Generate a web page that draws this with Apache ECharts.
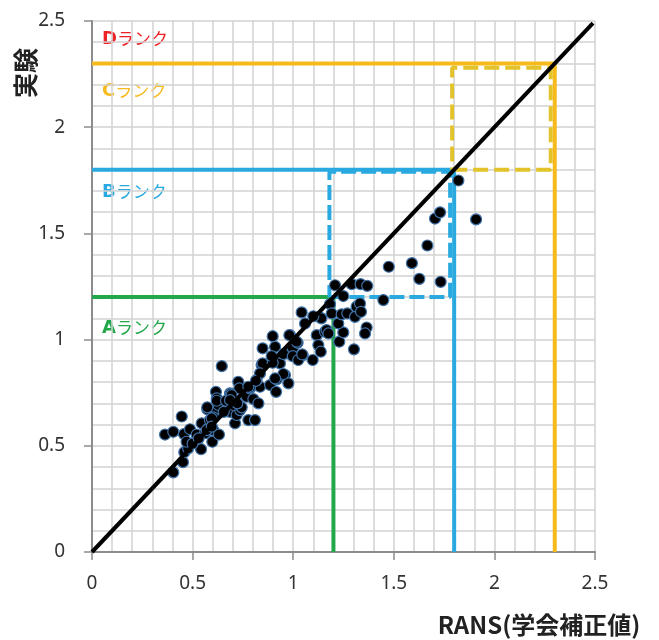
<!DOCTYPE html>
<html>
<head>
<meta charset="utf-8">
<script src="https://cdn.jsdelivr.net/npm/echarts@6/dist/echarts.min.js"></script>
<style>
  html, body { margin: 0; padding: 0; background: #fff; }
  #chart { width: 659px; height: 640px; }
</style>
</head>
<body>
<div id="chart"></div>
<script>
// Axis range shared by both axes
const axisMin = 0;
const axisMax = 2.5;
const majorStep = 0.5;

// Rank thresholds (A / B / C boundaries)
const rankThresholds = [1.2, 1.8, 2.3];

// Dashed boxes around the B and C bands: [x0, x1] and [y0, y1]
const boxBX = [1.18, 1.78];
const boxBY = [1.2, 1.79];
const boxCX = [1.79, 2.28];
const boxCY = [1.8, 2.28];

// Measured pairs: RANS (corrected) vs experiment
const ransValues = [
  0.363, 0.404, 0.404, 0.446, 0.457, 0.487, 0.452, 0.459, 0.478, 0.470,
  0.520, 0.542, 0.545, 0.562, 0.578, 0.598, 0.603, 0.631, 0.586, 0.573,
  0.611, 0.603, 0.616, 0.620, 0.628, 0.645, 0.669, 0.686, 0.711, 0.719,
  0.736, 0.686, 0.727, 0.732, 0.711, 0.769, 0.777, 0.810, 0.802, 0.827,
  0.785, 0.835, 0.818, 0.848, 0.843, 0.885, 0.915, 0.898, 0.910, 0.918,
  0.934, 0.959, 0.976, 0.968, 0.984, 0.998, 1.022, 1.022, 1.047, 1.097,
  1.059, 1.117, 1.125, 1.137, 1.158, 1.042, 1.133, 0.951, 0.998, 1.025,
  0.848, 0.898, 0.951, 0.910, 0.835, 0.744, 0.702, 0.620, 0.666, 0.573,
  0.689, 0.785, 0.570, 0.595, 0.694, 0.722, 0.595, 0.686, 0.777, 0.815,
  0.893, 0.981, 1.017, 1.045, 1.229, 1.249, 1.224, 0.500, 0.530, 0.655,
  1.183, 1.191, 1.208, 1.249, 1.241, 1.269, 1.291, 1.307, 1.315, 1.332,
  1.335, 1.337, 1.368, 1.140, 1.166, 1.175, 1.365, 1.357, 1.302, 1.100,
  1.448, 1.475, 1.590, 1.627, 1.733, 1.667, 1.705, 1.730, 1.909, 1.821
];
const expValues = [
  0.553, 0.566, 0.375, 0.638, 0.555, 0.578, 0.423, 0.470, 0.488, 0.519,
  0.553, 0.484, 0.606, 0.559, 0.582, 0.519, 0.574, 0.553, 0.621, 0.672,
  0.668, 0.634, 0.754, 0.723, 0.692, 0.875, 0.707, 0.660, 0.606, 0.645,
  0.668, 0.747, 0.801, 0.770, 0.707, 0.731, 0.621, 0.621, 0.720, 0.700,
  0.770, 0.778, 0.809, 0.959, 0.880, 0.786, 0.754, 1.016, 0.966, 0.813,
  0.888, 0.833, 0.794, 0.935, 1.021, 0.959, 0.985, 0.911, 0.927, 0.904,
  1.076, 1.021, 0.974, 0.943, 1.037, 1.128, 1.104, 0.932, 0.922, 0.904,
  0.888, 0.891, 0.838, 0.817, 0.841, 0.681, 0.692, 0.712, 0.712, 0.681,
  0.744, 0.775, 0.574, 0.629, 0.739, 0.700, 0.590, 0.715, 0.778, 0.806,
  0.922, 1.021, 0.990, 0.930, 0.990, 1.034, 1.076, 0.510, 0.535, 0.660,
  1.167, 1.123, 1.256, 1.205, 1.119, 1.123, 1.261, 1.107, 1.155, 1.170,
  1.261, 1.131, 1.253, 1.100, 1.045, 1.029, 1.057, 1.029, 0.954, 1.110,
  1.186, 1.343, 1.360, 1.286, 1.272, 1.443, 1.570, 1.599, 1.566, 1.749
];

// Rank label texts
const rankLetters = ['D', 'C', 'B', 'A'];
const rankSuffix = 'ランク';

// Axis titles
const xAxisTitle = 'RANS(学会補正値)';
const yAxisTitle = '実験';

const green = '#22a74b';
const blue = '#29a9e0';
const yellow = '#f6ba1d';
const dashYellow = '#e2c32a';
const red = '#ec2227';
const labelColors = [red, yellow, blue, green];
const lineColors = [green, blue, yellow];

const pts = ransValues.map((x, i) => [x, expValues[i]]);

function corner(t) {
  return [[0, t], [t, t], [t, 0]];
}
function box(xs, ys) {
  return [[xs[0], ys[0]], [xs[1], ys[0]], [xs[1], ys[1]], [xs[0], ys[1]], [xs[0], ys[0]]];
}

const font = "'Noto Sans', 'Noto Sans CJK JP', sans-serif";
const cjkFont = "'Noto Sans CJK JP', 'Noto Sans', sans-serif";

function valueAxis() {
  return {
    type: 'value',
    min: axisMin,
    max: axisMax,
    interval: majorStep,
    axisLine: { show: true, lineStyle: { color: '#8c8c8c', width: 2 } },
    axisTick: { show: true, inside: false, length: 8, lineStyle: { color: '#8c8c8c', width: 1.5 } },
    axisLabel: { color: '#333', fontSize: 19, fontFamily: font },
    splitLine: { show: true, lineStyle: { color: '#d2d2d2', width: 1.5 } },
    minorTick: { show: false, splitNumber: 5 },
    minorSplitLine: { show: true, lineStyle: { color: '#d2d2d2', width: 1.5 } }
  };
}

const xAxis = valueAxis();
xAxis.axisLabel.margin = 22;
const yAxis = valueAxis();
yAxis.axisLabel.margin = 27;

const series = [];
rankThresholds.forEach((t, i) => {
  series.push({
    type: 'line',
    data: corner(t),
    symbol: 'none',
    silent: true,
    z: 2,
    lineStyle: { color: lineColors[i], width: 4 }
  });
});
series.push({
  type: 'line', data: box(boxBX, boxBY), symbol: 'none', silent: true, z: 3,
  lineStyle: { color: blue, width: 4, type: [15, 5] }
});
series.push({
  type: 'line', data: box(boxCX, boxCY), symbol: 'none', silent: true, z: 3,
  lineStyle: { color: dashYellow, width: 4, type: [15, 6] }
});
series.push({
  type: 'scatter',
  data: pts,
  symbol: 'circle',
  symbolSize: 11,
  z: 4,
  itemStyle: { color: '#000', borderColor: '#3f72a8', borderWidth: 1.2, opacity: 1 }
});
series.push({
  type: 'line',
  data: [[axisMin, axisMin], [2.49, 2.49]],
  symbol: 'none', silent: true, z: 5,
  lineStyle: { color: '#000', width: 4 }
});

const labelY = [39, 91, 192, 328];
const graphics = rankLetters.map((l, i) => ({
  type: 'text',
  x: 102,
  y: labelY[i],
  style: {
    text: '{b|' + l + '}{n|' + rankSuffix + '}',
    verticalAlign: 'middle',
    rich: {
      b: { fontSize: 18, fontWeight: 'bold', fontFamily: "'DejaVu Sans', sans-serif", fill: labelColors[i] },
      n: { fontSize: 17, fontFamily: cjkFont, fill: labelColors[i] }
    }
  }
}));
graphics.push({
  type: 'text',
  x: 25, y: 73,
  rotation: Math.PI / 2,
  style: {
    text: yAxisTitle, fontSize: 25, fontWeight: 'bold', fontFamily: cjkFont,
    fill: '#222', align: 'center', verticalAlign: 'middle'
  }
});
graphics.push({
  type: 'text',
  x: 539, y: 625,
  style: {
    text: xAxisTitle, fontSize: 24, fontWeight: 'bold', fontFamily: cjkFont,
    fill: '#222', align: 'center', verticalAlign: 'middle'
  }
});

const chart = echarts.init(document.getElementById('chart'), null, { renderer: 'canvas' });
chart.setOption({
  animation: false,
  backgroundColor: '#fff',
  grid: { left: 92, right: 64, top: 21, bottom: 88, containLabel: false },
  xAxis: xAxis,
  yAxis: yAxis,
  series: series,
  graphic: graphics
});
</script>
</body>
</html>
